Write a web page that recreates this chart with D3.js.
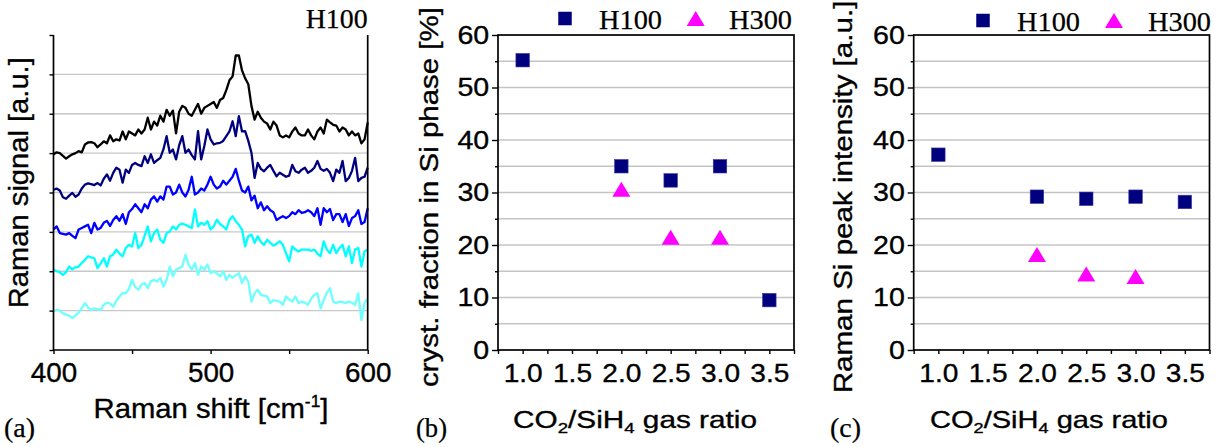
<!DOCTYPE html>
<html><head><meta charset="utf-8">
<script src="https://cdn.jsdelivr.net/npm/d3@7"></script>
<style>body{margin:0;background:#fff}svg{display:block}</style>
</head><body>
<svg id="chart" width="1219" height="447"></svg>
<script>
// ---------- DATA ----------
const shift = [400,402,404,406,408,410,412,414,416,418,420,422,424,426,428,430,432,434,436,438,
440,442,444,446,448,450,452,454,456,458,460,462,464,466,468,470,472,474,476,478,
480,482,484,486,488,490,492,494,496,498,500,502,504,506,508,510,512,514,516,518,
520,522,524,526,528,530,532,534,536,538,540,542,544,546,548,550,552,554,556,558,
560,562,564,566,568,570,572,574,576,578,580,582,584,586,588,590,592,594,596,598,600];
const spec1 = [4.97,5.02,5.00,4.93,4.86,4.92,4.97,5.00,5.05,5.02,
5.22,5.27,5.28,5.25,5.15,5.22,5.30,5.25,5.45,5.30,
5.35,5.32,5.55,5.35,5.55,5.50,5.45,5.60,5.50,5.60,
5.90,5.60,5.80,5.70,5.95,5.80,6.10,5.95,6.08,5.50,
6.05,6.20,6.15,6.00,5.95,6.10,6.25,6.00,6.15,6.20,
6.25,6.30,6.15,6.35,6.40,6.60,6.85,6.95,7.48,7.48,
7.10,6.90,6.75,6.20,5.85,6.05,5.90,5.80,5.75,5.60,
5.80,5.70,5.45,5.40,5.45,5.40,5.55,5.65,5.50,5.45,
5.45,5.60,5.45,5.35,5.55,5.65,5.50,5.85,5.78,5.72,
5.70,5.55,5.65,5.60,5.45,5.55,5.45,5.50,5.25,5.35,5.78];
const spec2 = [4.07,4.10,4.05,3.88,3.84,3.92,3.99,3.89,3.95,4.10,
4.20,4.23,4.21,4.19,4.24,4.18,4.35,4.46,4.30,4.50,
4.63,4.58,4.25,4.58,4.50,4.70,4.75,4.70,4.67,4.92,
4.75,4.97,4.75,4.82,4.88,5.10,5.43,5.01,5.09,4.84,
5.20,5.43,5.01,5.09,4.95,4.84,5.56,4.84,5.18,5.60,
5.35,5.22,5.25,5.26,5.31,5.43,5.55,5.81,5.43,5.94,
5.55,5.56,5.31,5.01,4.37,4.75,4.60,4.54,4.63,4.70,
4.55,4.41,4.50,4.45,4.40,4.43,4.70,4.54,4.50,4.58,
4.63,4.50,4.55,4.63,4.80,4.60,4.55,4.60,4.50,4.29,
4.58,4.50,4.80,4.29,4.37,4.55,4.88,4.29,4.37,4.40,4.63];
const spec3 = [3.06,3.14,2.97,2.95,2.93,2.97,2.90,2.84,3.06,3.10,
3.14,3.18,2.97,3.23,3.06,3.10,3.23,3.28,3.15,3.30,
3.40,3.28,3.45,3.20,3.50,3.58,3.70,3.60,3.50,3.70,
3.60,3.82,3.90,3.77,3.90,3.82,4.15,4.15,3.95,4.00,
4.20,4.00,3.90,4.07,4.40,3.95,4.00,4.10,4.05,4.20,
4.40,4.20,4.10,4.15,4.30,4.20,4.30,4.40,4.60,4.30,
4.05,4.00,4.15,3.80,3.92,3.60,3.75,3.55,3.65,3.55,
3.50,3.30,3.35,3.40,3.35,3.40,3.50,3.45,3.55,3.48,
3.50,3.55,3.50,3.40,3.60,3.18,3.60,3.50,3.58,3.30,
3.45,3.45,3.25,3.45,3.15,3.35,3.40,3.55,3.20,3.25,3.60];
const spec4 = [2.04,2.00,1.98,1.91,1.98,2.12,2.05,2.10,2.12,2.21,
2.29,2.38,2.35,2.33,2.08,2.20,2.33,2.12,2.38,2.42,
2.55,2.45,2.38,2.59,2.67,2.63,2.97,2.59,2.67,2.90,
3.14,2.76,2.97,3.06,2.80,2.72,2.97,3.01,3.14,3.06,
3.18,3.21,3.18,3.14,3.10,3.57,3.14,3.23,3.18,3.27,
3.06,3.14,3.31,3.20,3.14,3.06,3.30,3.40,3.27,3.18,
3.06,2.63,2.89,2.93,2.72,2.89,2.75,2.67,2.80,2.72,
2.65,2.70,2.76,2.67,2.46,2.25,2.63,2.55,2.50,2.55,
2.55,2.55,2.52,2.55,2.45,2.38,2.76,2.55,2.46,2.67,
2.46,2.59,2.67,2.38,2.63,2.21,2.55,2.59,2.12,2.50,2.55];
const spec5 = [0.98,1.02,1.00,0.93,0.90,0.87,0.81,0.88,0.95,1.06,
1.19,1.08,1.02,1.06,1.04,1.02,1.15,1.20,1.18,1.10,
1.25,1.36,1.45,1.44,1.55,1.78,1.60,1.53,1.66,1.70,
1.57,1.75,1.78,1.74,1.83,1.61,1.78,2.12,1.87,2.04,
2.08,2.12,2.42,2.17,2.04,2.21,1.91,2.12,2.04,2.17,
1.95,2.00,1.95,1.87,2.00,1.78,1.91,1.83,1.90,1.95,
1.70,1.87,1.74,1.23,1.44,1.53,1.40,1.38,1.36,1.19,
1.27,1.25,1.23,1.15,1.36,1.28,1.23,1.36,1.19,1.23,
1.20,1.15,1.30,1.40,1.44,1.06,1.27,1.45,1.57,1.23,
1.19,1.23,1.22,1.19,1.23,1.20,1.15,1.44,0.76,1.19,1.32];
const spectra = [spec1, spec2, spec3, spec4, spec5];
const specColors = ["#000000","#00007f","#0000ff","#00ffff","#70ffff"];

const ratioH100 = [1.0, 2.0, 2.5, 3.0, 3.5];
const ratioH300 = [2.0, 2.5, 3.0];
const crystH100 = [55.2, 35.0, 32.3, 35.0, 9.5];
const crystH300 = [30.6, 21.5, 21.5];
const peakH100  = [37.2, 29.2, 28.8, 29.2, 28.2];
const peakH300  = [18.2, 14.5, 14.0];

const shiftTicks = [400, 450, 500, 550, 600];
const shiftLabels = [400, 500, 600];
const ratioTicks = [0.75,1.0,1.25,1.5,1.75,2.0,2.25,2.5,2.75,3.0,3.25,3.5,3.75];
const ratioLabels = [1.0,1.5,2.0,2.5,3.0,3.5];
const pctTicks = [0,10,20,30,40,50,60];
const pctMinor = [5,15,25,35,45,55];

// ---------- DRAW ----------
const svg = d3.select("#chart");
const SANS = "'Liberation Sans', Arial, sans-serif";
const SERIF = "'Liberation Serif', 'Times New Roman', serif";
const NAVY = "#00007f", MAG = "#ff00ff";
const TXT_STROKE = 0.35;

function stretchTitle(cx, cy, rot, size, target, build) {
  const g = svg.append("g").attr("transform", `translate(${cx},${cy}) rotate(${rot})`);
  const t = g.append("text").attr("font-family", SANS).attr("font-size", size)
    .attr("text-anchor", "middle").attr("fill", "#000")
    .attr("stroke", "#000").attr("stroke-width", TXT_STROKE);
  build(t);
  const w = t.node().getBBox().width;
  t.attr("transform", `scale(${target / w},1)`);
}

function styleAxis(g, fontSize, sx) {
  g.select(".domain").remove();
  g.selectAll("line").attr("stroke", "#000").attr("stroke-width", 1.4);
  g.selectAll("text").attr("font-family", SANS).attr("font-size", fontSize)
    .attr("fill", "#000").attr("stroke", "#000").attr("stroke-width", TXT_STROKE)
    .attr("transform", `scale(${sx},1)`);
}

function serifText(x, y, size, str, anchor, len) {
  const t = svg.append("text").attr("x", x).attr("y", y).attr("font-family", SERIF)
    .attr("font-size", size).attr("text-anchor", anchor || "start")
    .attr("fill", "#000").attr("stroke", "#000").attr("stroke-width", 0.25).text(str);
  if (len) t.attr("textLength", len).attr("lengthAdjust", "spacingAndGlyphs");
  return t;
}

// Panel (a)
{
  const x = d3.scaleLinear().domain([400, 600]).range([53.5, 367.7]);
  const y = d3.scaleLinear().domain([0, 8]).range([350, 35]);
  svg.append("g").selectAll("line").data(d3.range(1, 8)).join("line")
    .attr("x1", x(400)).attr("x2", x(600)).attr("y1", d => y(d)).attr("y2", d => y(d))
    .attr("stroke", "#c8c8c8").attr("stroke-width", 1.4);
  const line = d3.line().x((d, i) => x(shift[i])).y(d => y(d));
  spectra.slice().reverse().forEach((s, k) => {
    const i = spectra.length - 1 - k;
    svg.append("path").datum(s).attr("d", line).attr("fill", "none")
      .attr("stroke", specColors[i]).attr("stroke-width", 2.3).attr("stroke-linejoin", "round");
  });
  const gx = svg.append("g").attr("transform", "translate(0,350)")
    .call(d3.axisBottom(x).tickValues(shiftTicks).tickSize(4).tickPadding(9)
      .tickFormat(d => shiftLabels.includes(d) ? d : ""));
  styleAxis(gx, 27, 1.03);
  const gy = svg.append("g").attr("transform", "translate(53.5,0)")
    .call(d3.axisLeft(y).tickValues(d3.range(0, 9)).tickSize(4).tickFormat(""));
  styleAxis(gy, 26, 1);
  svg.append("path").attr("d", `M${x(400)},${y(8)}V${y(0)}H${x(600)}V${y(8)}`)
    .attr("fill", "none").attr("stroke", "#000").attr("stroke-width", 1.7);
  serifText(367.7, 28, 27, "H100", "end", 62);
  serifText(4, 437, 27, "(a)", "start", 31);
  stretchTitle(211, 418, 0, 27, 235, t => {
    t.append("tspan").text("Raman shift [cm");
    t.append("tspan").attr("font-size", 16).attr("dy", -11).text("-1");
    t.append("tspan").attr("dy", 11).text("]");
  });
  stretchTitle(28, 182.7, -90, 27, 251, t => t.text("Raman signal [a.u.]"));
}

function scatterPanel(x0, x1, yData100, yData300, ytitle, ytCx, ytSize, ytLen, xtCx, xtLen, legend, tag, tagX) {
  const x = d3.scaleLinear().domain([0.75, 3.75]).range([x0, x1]);
  const y = d3.scaleLinear().domain([0, 60]).range([350, 35]);
  svg.append("g").selectAll("line").data(d3.range(5, 60, 5)).join("line")
    .attr("x1", x0).attr("x2", x1).attr("y1", d => y(d)).attr("y2", d => y(d))
    .attr("stroke", "#c4c4c4").attr("stroke-width", 1.4);
  const gx = svg.append("g").attr("transform", "translate(0,350)")
    .call(d3.axisBottom(x).tickValues(ratioTicks).tickSize(4).tickPadding(9.5)
      .tickFormat(d => ratioLabels.includes(d) ? d3.format(".1f")(d) : ""));
  styleAxis(gx, 26, 1.08);
  const gy = svg.append("g").attr("transform", `translate(${x0},0)`)
    .call(d3.axisLeft(y).tickValues(pctTicks).tickSize(6).tickPadding(2).tickFormat(d3.format("d")));
  styleAxis(gy, 26, 1.1);
  const gy2 = svg.append("g").attr("transform", `translate(${x0},0)`)
    .call(d3.axisLeft(y).tickValues(pctMinor).tickSize(3).tickFormat(""));
  styleAxis(gy2, 26, 1);
  svg.append("rect").attr("x", x0).attr("y", y(60)).attr("width", x1 - x0).attr("height", y(0) - y(60))
    .attr("fill", "none").attr("stroke", "#000").attr("stroke-width", 1.7);
  const sq = 13.5;
  svg.append("g").selectAll("rect").data(ratioH100).join("rect")
    .attr("x", (d) => x(d) - sq / 2).attr("y", (d, i) => y(yData100[i]) - sq / 2)
    .attr("width", sq).attr("height", sq).attr("fill", NAVY)
    .attr("stroke", "#3a3aa0").attr("stroke-width", 0.6);
  const tri = (cx, cy) => `M${cx},${cy - 7.5}L${cx + 9},${cy + 7.5}L${cx - 9},${cy + 7.5}Z`;
  svg.append("g").selectAll("path").data(ratioH300).join("path")
    .attr("d", (d, i) => tri(x(d), y(yData300[i]))).attr("fill", MAG);
  // legend
  svg.append("rect").attr("x", legend[0] - sq / 2).attr("y", legend[1] - sq / 2)
    .attr("width", sq).attr("height", sq).attr("fill", NAVY);
  serifText(legend[2], legend[1] + 10, 27, "H100", "start", 63);
  svg.append("path").attr("d", tri(legend[3], legend[1])).attr("fill", MAG);
  serifText(legend[4], legend[1] + 10, 27, "H300", "start", 63);
  serifText(tagX, 437, 27, tag, "start", 31);
  stretchTitle(xtCx, 428, 0, 24, xtLen, t => {
    t.append("tspan").text("CO");
    t.append("tspan").attr("font-size", 15).attr("dy", 5).text("2");
    t.append("tspan").attr("dy", -5).text("/SiH");
    t.append("tspan").attr("font-size", 15).attr("dy", 5).text("4");
    t.append("tspan").attr("dy", -5).text(" gas ratio");
  });
  stretchTitle(ytCx, 197, -90, ytSize, ytLen, t => t.text(ytitle));
}

scatterPanel(498, 794, crystH100, crystH300, "cryst. fraction in Si phase [%]", 438, 25, 380,
  635, 244, [565, 18.5, 599, 695.7, 729], "(b)", 416);
scatterPanel(913.7, 1209.5, peakH100, peakH300, "Raman Si peak intensity [a.u.]", 852, 26, 393,
  1049, 238, [983, 20.5, 1017, 1114, 1148], "(c)", 830);
</script>
</body></html>
